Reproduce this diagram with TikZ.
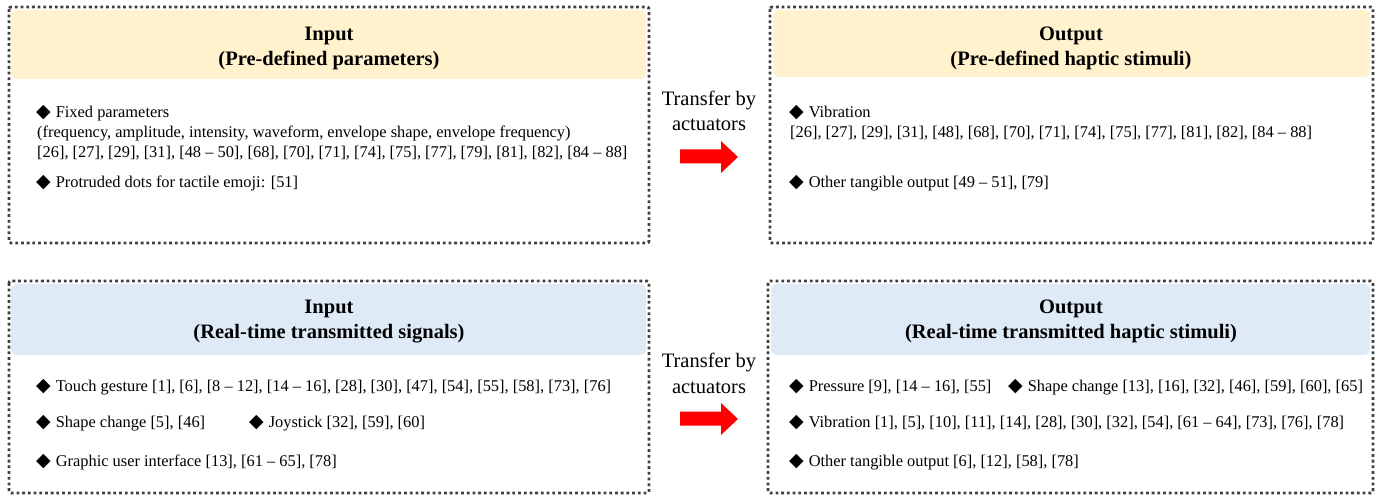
\documentclass[tikz,border=0pt]{standalone}
\usepackage{fontspec}
\setmainfont{Liberation Serif}
\newfontfamily\symfam{DejaVu Sans}
\usepackage{tikz}

\definecolor{headyellow}{HTML}{FFF2CC}
\definecolor{headblue}{HTML}{DEEBF7}
\definecolor{dotgray}{HTML}{404040}
\newcommand{\blt}{{\symfam\fontsize{19}{19}\selectfont ◆}\hspace{5pt}}

\begin{document}
\begin{tikzpicture}[x=1pt,y=1pt]
\tikzstyle{every node}+=[inner sep=0pt]
\tikzstyle{frame}=[dotgray, line width=2.8pt, dash pattern=on 2.8pt off 2.9pt, rounded corners=2pt]
\tikzstyle{head}=[font=\fontsize{20.5}{25}\selectfont\bfseries, anchor=base]
\tikzstyle{item}=[font=\fontsize{16.4}{20}\selectfont, anchor=base west]
\tikzstyle{transfer}=[font=\fontsize{20.5}{25}\selectfont, anchor=base]
\useasboundingbox (0,0) rectangle (1377,-497);
% header fills
\fill [headyellow, rounded corners=6pt] (11,-10) rectangle (646,-79);
\fill [headyellow, rounded corners=6pt] (773,-10) rectangle (1370,-77);
\fill [headblue, rounded corners=6pt] (11,-284) rectangle (646,-355);
\fill [headblue, rounded corners=6pt] (771,-284) rectangle (1370,-355);
% dotted frames
\draw [frame] (9,-7) rectangle (649,-243);
\draw [frame] (770,-7) rectangle (1373,-243);
\draw [frame] (9,-281) rectangle (649,-493);
\draw [frame] (768,-281) rectangle (1373,-493);
% pre-defined input
\node [head] (inPre) at (329,-41) {Input};
\node [head] (inPreSub) at (329,-66) {(Pre-defined parameters)};
\node [item] (fixed) at (36,-118) {\blt Fixed parameters};
\node [item] (fixedList) at (37,-138) {(frequency, amplitude, intensity, waveform, envelope shape, envelope frequency)};
\node [item] (fixedRefs) at (37,-158) {[26], [27], [29], [31], [48 -- 50], [68], [70], [71], [74], [75], [77], [79], [81], [82], [84 -- 88]};
\node [item] (dots) at (36,-188) {\blt Protruded dots for tactile emoji: [51]};
% pre-defined output
\node [head] (outPre) at (1071,-41) {Output};
\node [head] (outPreSub) at (1071,-66) {(Pre-defined haptic stimuli)};
\node [item] (vib) at (789,-118) {\blt Vibration};
\node [item] (vibRefs) at (790,-138) {[26], [27], [29], [31], [48], [68], [70], [71], [74], [75], [77], [81], [82], [84 -- 88]};
\node [item] (other) at (789,-188) {\blt Other tangible output [49 -- 51], [79]};
% real-time input
\node [head] (inRt) at (329,-313) {Input};
\node [head] (inRtSub) at (329,-338) {(Real-time transmitted signals)};
\node [item] (touch) at (36,-391) {\blt Touch gesture [1], [6], [8 -- 12], [14 -- 16], [28], [30], [47], [54], [55], [58], [73], [76]};
\node [item] (shapeIn) at (36,-427) {\blt Shape change [5], [46]};
\node [item] (joy) at (249,-427) {\blt Joystick [32], [59], [60]};
\node [item] (gui) at (36,-466) {\blt Graphic user interface [13], [61 -- 65], [78]};
% real-time output
\node [head] (outRt) at (1071,-313) {Output};
\node [head] (outRtSub) at (1071,-338) {(Real-time transmitted haptic stimuli)};
\node [item] (press) at (789,-391) {\blt Pressure [9], [14 -- 16], [55]};
\node [item] (shapeOut) at (1008,-391) {\blt Shape change [13], [16], [32], [46], [59], [60], [65]};
\node [item] (vibRt) at (789,-427) {\blt Vibration [1], [5], [10], [11], [14], [28], [30], [32], [54], [61 -- 64], [73], [76], [78]};
\node [item] (otherRt) at (789,-466) {\blt Other tangible output [6], [12], [58], [78]};
% transfer arrows
\node [transfer] (trPre) at (709,-106) {Transfer by};
\node [transfer] (actPre) at (709,-131) {actuators};
\fill [red] (680,-149.5) -- (721,-149.5) -- (721,-141) -- (738,-157) -- (721,-173) -- (721,-163.5) -- (680,-163.5) -- cycle;
\node [transfer] (trRt) at (709,-367) {Transfer by};
\node [transfer] (actRt) at (709,-393) {actuators};
\fill [red] (680,-411.5) -- (721,-411.5) -- (721,-403) -- (738,-419) -- (721,-435) -- (721,-425.5) -- (680,-425.5) -- cycle;
\end{tikzpicture}
\end{document}
